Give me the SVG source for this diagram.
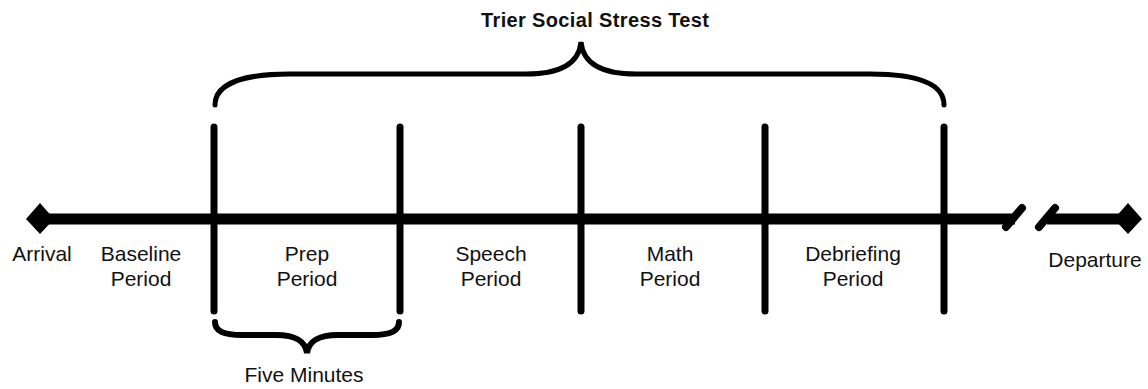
<svg xmlns="http://www.w3.org/2000/svg" width="1148" height="389" viewBox="0 0 1148 389">
<style>
.lbl{font-family:"Liberation Sans",Arial,sans-serif;font-size:21px;fill:#111;text-anchor:middle}
.ttl{font-family:"Liberation Sans",Arial,sans-serif;font-size:20px;font-weight:bold;fill:#111;text-anchor:middle}
.bar{stroke:#000;stroke-width:7;stroke-linecap:round;fill:none}
.axis{stroke:#000;stroke-width:11;fill:none}
.brk{stroke:#000;stroke-width:8;stroke-linecap:round;fill:none}
.brace{stroke:#000;stroke-width:5;fill:none;stroke-linecap:round}
</style>
<rect width="1148" height="389" fill="#fff"/>
<g id="connectors">
  <line class="axis" x1="40" y1="219" x2="1015" y2="219"/>
  <line class="axis" x1="1047" y1="219" x2="1128" y2="219"/>
  <line class="brk" x1="1006" y1="227" x2="1022" y2="208"/>
  <line class="brk" x1="1039" y1="227" x2="1055" y2="208"/>
  <line class="bar" x1="214" y1="127" x2="214" y2="311"/>
  <line class="bar" x1="400" y1="127" x2="400" y2="311"/>
  <line class="bar" x1="581" y1="127" x2="581" y2="311"/>
  <line class="bar" x1="765" y1="127" x2="765" y2="311"/>
  <line class="bar" x1="944" y1="127" x2="944" y2="311"/>
  <path class="brace" d="M215,105 C215,86 238,74 290,74 L526,74 C560,74 579,64 581,42 C583,64 602,74 636,74 L870,74 C922,74 944,86 944,105"/>
  <path class="brace" style="stroke-width:6" d="M215,322 C215,331 223,335 242,335 L276,335 C296,335 305,341 307,353 C309,341 318,335 338,335 L372,335 C391,335 399,331 399,322"/>
</g>
<g id="arrival">
  <polygon points="40,203 54,219 40,234 26,219" fill="#000"/>
  <text class="lbl" x="42" y="261">Arrival</text>
</g>
<g id="departure">
  <polygon points="1128,203 1142,219 1128,234 1114,219" fill="#000"/>
  <text class="lbl" x="1095" y="267">Departure</text>
</g>
<g id="baseline">
  <text class="lbl" x="141" y="261">Baseline</text>
  <text class="lbl" x="141" y="286">Period</text>
</g>
<g id="prep">
  <text class="lbl" x="307" y="261">Prep</text>
  <text class="lbl" x="307" y="286">Period</text>
</g>
<g id="speech">
  <text class="lbl" x="491" y="261">Speech</text>
  <text class="lbl" x="491" y="286">Period</text>
</g>
<g id="math">
  <text class="lbl" x="670" y="261">Math</text>
  <text class="lbl" x="670" y="286">Period</text>
</g>
<g id="debriefing">
  <text class="lbl" x="853" y="261">Debriefing</text>
  <text class="lbl" x="853" y="286">Period</text>
</g>
<g id="tsst">
  <text class="ttl" x="595" y="27" textLength="228" lengthAdjust="spacing">Trier Social  Stress Test</text>
</g>
<g id="five">
  <text class="lbl" x="304" y="382">Five Minutes</text>
</g>
</svg>
